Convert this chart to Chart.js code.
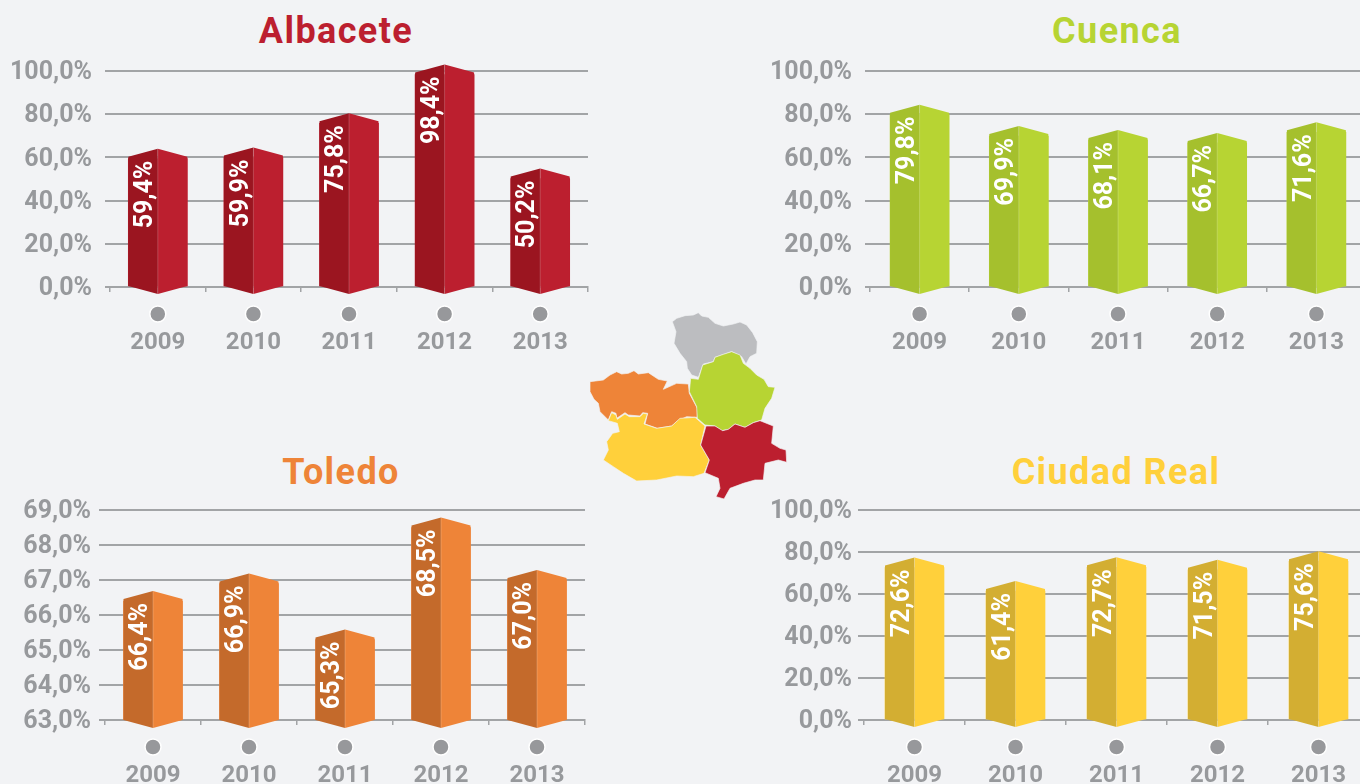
<!DOCTYPE html>
<html>
<head>
<meta charset="utf-8">
<title>Castilla-La Mancha</title>
<script src="https://cdn.jsdelivr.net/npm/chart.js@4.4.1/dist/chart.umd.js"></script>
<style>
html, body { margin: 0; padding: 0; width: 1360px; height: 784px; overflow: hidden; background: #f2f3f5; }
canvas { position: absolute; }
.title { position: absolute; transform: translate(-50%, -50%); font: 700 36px Roboto, sans-serif; letter-spacing: 1.4px; white-space: nowrap; line-height: 1; }
#map { position: absolute; left: 580px; top: 300px; }
#map path { stroke: #f2f3f5; stroke-width: 2; stroke-linejoin: round; }
</style>
</head>
<body>
<div class="title" style="left:336px;top:31px;color:#bc1f2f">Albacete</div>
<div class="title" style="left:1117px;top:31px;color:#b7d433">Cuenca</div>
<div class="title" style="left:341px;top:472px;color:#ee8438">Toledo</div>
<div class="title" style="left:1116px;top:472px;color:#ffd03b">Ciudad Real</div>

<canvas id="chartAlbacete"></canvas>
<canvas id="chartCuenca"></canvas>
<canvas id="chartToledo"></canvas>
<canvas id="chartCiudadReal"></canvas>

<!-- provinces map, only decoration -->
<svg id="map" width="220" height="210" viewBox="0 0 660 630">
  <path fill="#bcbdc0" d="M277,65 L290,55 L315,47 L340,45 L355,38 L365,48 L385,52 L405,70 L430,78 L460,72 L480,66 L500,75 L518,98 L532,125 L530,160 L510,170 L498,192 L485,170 L455,155 L425,165 L405,172 L400,185 L370,192 L355,232 L335,225 L322,205 L320,185 L300,160 L282,130 L288,95 Z"/>
  <path fill="#ee8438" d="M30,245 L70,240 L90,225 L110,215 L125,222 L145,220 L162,212 L175,222 L205,218 L235,238 L262,243 L250,268 L290,250 L325,252 L328,280 L352,325 L352,352 L320,350 L295,362 L275,378 L232,385 L195,372 L203,340 L188,338 L180,348 L145,345 L135,338 L110,355 L108,340 L95,335 L85,360 L60,335 L55,310 L42,298 L30,275 Z"/>
  <path fill="#b7d433" d="M455,155 L480,165 L490,190 L510,205 L530,225 L552,238 L565,260 L585,262 L575,295 L555,325 L545,360 L520,368 L495,382 L465,372 L445,388 L425,392 L405,378 L375,375 L352,355 L350,320 L328,275 L332,235 L355,238 L368,195 L400,185 L405,172 L430,163 Z"/>
  <path fill="#ffd03b" d="M85,362 L95,338 L108,345 L112,358 L135,342 L148,350 L180,350 L190,340 L202,342 L192,372 L230,385 L275,378 L300,355 L345,352 L375,378 L362,435 L388,480 L372,520 L340,530 L290,528 L230,540 L170,543 L130,520 L100,500 L70,480 L85,450 L80,425 L98,400 L118,395 L112,370 Z"/>
  <path fill="#bc1f2f" d="M378,378 L405,378 L428,392 L445,388 L465,372 L495,382 L520,368 L540,362 L580,378 L575,430 L600,445 L618,450 L620,487 L595,480 L555,490 L550,540 L525,540 L490,550 L450,565 L432,597 L408,590 L420,565 L415,535 L375,518 L388,480 L362,435 Z"/>
</svg>

<script>
// data
var categories = ["2009", "2010", "2011", "2012", "2013"];
var valuesAlbacete = [59.4, 59.9, 75.8, 98.4, 50.2];
var valuesCuenca = [79.8, 69.9, 68.1, 66.7, 71.6];
var valuesToledo = [66.4, 66.9, 65.3, 68.5, 67.0];
var valuesCiudadReal = [72.6, 61.4, 72.7, 71.5, 75.6];

var ticksPct = [0, 20, 40, 60, 80, 100];
var tickLabelsPct = ["0,0%", "20,0%", "40,0%", "60,0%", "80,0%", "100,0%"];
var ticksToledo = [63, 64, 65, 66, 67, 68, 69];
var tickLabelsToledo = ["63,0%", "64,0%", "65,0%", "66,0%", "67,0%", "68,0%", "69,0%"];

var GREY = "#a2a4a6";
var TEXT = "#97999c";
var FONT = "Roboto";

// bars are prisms: dark left half, pointed top and bottom
var prismPlugin = {
    id: "prism",
    beforeDraw: function(chart) {
        // y labels sit 2px lower than chart.js puts them
        var yScale = chart.scales.y;
        var drawLabels = yScale.drawLabels;
        yScale.drawLabels = function(area) {
            chart.ctx.save();
            chart.ctx.translate(0, 2);
            drawLabels.call(yScale, area);
            chart.ctx.restore();
        };
    },
    afterDatasetsDraw: function(chart) {
        var ctx = chart.ctx;
        var ds = chart.data.datasets[0];
        var bars = chart.getDatasetMeta(0).data;
        var xScale = chart.scales.x;
        for (let i = 0; i < bars.length; i++) {
            let b = bars[i];
            let l = b.x - b.width / 2;
            let r = b.x + b.width / 2;
            let top = b.y - 2;
            // Toledo axis does not start at zero, stop the bar on the axis
            let base = Math.min(b.base, chart.chartArea.bottom);

            ctx.save();
            ctx.fillStyle = ds.backgroundColor;
            ctx.beginPath();
            ctx.moveTo(b.x, top - 8);
            ctx.lineTo(r, top);
            ctx.lineTo(r, base);
            ctx.lineTo(b.x, base + 8);
            ctx.closePath();
            ctx.fill();

            ctx.fillStyle = ds.darkColor;
            ctx.beginPath();
            ctx.moveTo(b.x, top - 8);
            ctx.lineTo(l, top);
            ctx.lineTo(l, base);
            ctx.lineTo(b.x, base + 8);
            ctx.closePath();
            ctx.fill();

            ctx.strokeStyle = "rgba(255,255,255,0.2)";
            ctx.lineWidth = 1;
            ctx.beginPath();
            ctx.moveTo(b.x, top - 8);
            ctx.lineTo(b.x, base + 8);
            ctx.stroke();

            // value, written upwards
            ctx.translate(b.x - 12, top + 4);
            ctx.rotate(-Math.PI / 2);
            ctx.fillStyle = "#ffffff";
            ctx.font = "700 25px " + FONT;
            ctx.textAlign = "right";
            ctx.textBaseline = "middle";
            ctx.fillText(ds.data[i].toFixed(1).replace(".", ",") + "%", 0, 0);
            ctx.restore();

            // dot above the year
            ctx.save();
            ctx.beginPath();
            ctx.arc(xScale.getPixelForTick(i), chart.chartArea.bottom + 27, 8, 0, Math.PI * 2);
            ctx.fillStyle = "#97989b";
            ctx.strokeStyle = "#ffffff";
            ctx.lineWidth = 1.5;
            ctx.fill();
            ctx.stroke();
            ctx.restore();
        }
    }
};

function makeChart(id, values, light, dark, tickVals, tickLabels, box) {
    var canvas = document.getElementById(id);
    canvas.width = box.width;
    canvas.height = box.height;
    canvas.style.left = box.left + "px";
    canvas.style.top = box.top + "px";
    return new Chart(canvas.getContext("2d"), {
        type: "bar",
        data: {
            labels: categories,
            datasets: [{
                data: values,
                backgroundColor: light,
                darkColor: dark,
                borderWidth: 0,
                barThickness: 59
            }]
        },
        plugins: [prismPlugin],
        options: {
            responsive: false,
            animation: false,
            layout: { padding: { top: box.plotTop - box.top, right: box.left + box.width - box.plotRight, left: 0, bottom: 0 } },
            plugins: { legend: { display: false }, tooltip: { enabled: false }, title: { display: false } },
            scales: {
                x: {
                    // fixed plot box, so the padding of the tick labels must not move it
                    afterFit: function(scale) {
                        scale.height = box.top + box.height - box.plotBottom;
                        scale.paddingLeft = 0;
                        scale.paddingRight = 0;
                    },
                    grid: { drawOnChartArea: false, color: GREY, lineWidth: 1.5, tickLength: 5 },
                    border: { color: GREY, width: 2 },
                    ticks: { color: TEXT, font: { family: FONT, size: 24, weight: "700" }, padding: 37, maxRotation: 0 }
                },
                y: {
                    min: tickVals[0],
                    max: tickVals[tickVals.length - 1],
                    afterFit: function(scale) {
                        scale.width = box.plotLeft - box.left;
                        scale.paddingTop = 0;
                        scale.paddingBottom = 0;
                    },
                    grid: { color: GREY, lineWidth: 2, tickLength: box.tickLen },
                    border: { display: false },
                    ticks: {
                        stepSize: tickVals[1] - tickVals[0],
                        color: TEXT,
                        font: { family: FONT, size: 25, weight: "700" },
                        padding: box.labelPad,
                        callback: function(v) { return tickLabels[tickVals.indexOf(v)]; }
                    }
                }
            }
        }
    });
}

makeChart("chartAlbacete", valuesAlbacete, "#bc1f2f", "#9b1520", ticksPct, tickLabelsPct,
    { left: 0, top: 50, width: 600, height: 310, plotLeft: 110, plotRight: 588, plotTop: 71, plotBottom: 287, tickLen: 5, labelPad: 13 });
makeChart("chartCuenca", valuesCuenca, "#b7d433", "#a5c02d", ticksPct, tickLabelsPct,
    { left: 760, top: 50, width: 620, height: 310, plotLeft: 870, plotRight: 1366, plotTop: 71, plotBottom: 287, tickLen: 5, labelPad: 13 });
makeChart("chartToledo", valuesToledo, "#ee8438", "#c46a2b", ticksToledo, tickLabelsToledo,
    { left: 0, top: 490, width: 600, height: 294, plotLeft: 105, plotRight: 585, plotTop: 510, plotBottom: 720, tickLen: 6, labelPad: 8 });
makeChart("chartCiudadReal", valuesCiudadReal, "#ffd03b", "#d3ae32", ticksPct, tickLabelsPct,
    { left: 760, top: 490, width: 620, height: 294, plotLeft: 864, plotRight: 1369, plotTop: 510, plotBottom: 720, tickLen: 6, labelPad: 6 });
</script>
</body>
</html>
